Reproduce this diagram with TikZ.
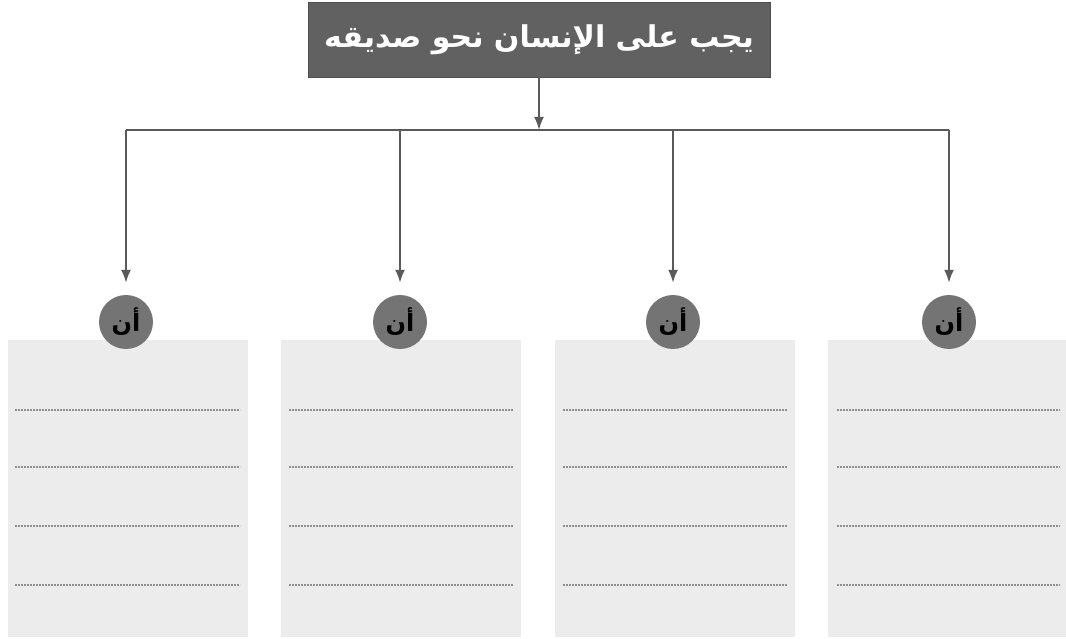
\documentclass[tikz,border=0pt]{standalone}
\usepackage{fontspec}
\usepackage{tikz}
\usetikzlibrary{arrows,arrows.meta}
\TeXXeTstate=1
\newfontfamily\arabicfont[Script=Arabic]{DejaVu Sans}
\definecolor{titlegray}{HTML}{616161}
\definecolor{ballgray}{HTML}{747474}
\definecolor{boxgray}{HTML}{ECECEC}
\definecolor{linegray}{HTML}{5A5A5A}
\definecolor{dotgray}{HTML}{8E8E8E}
\tikzset{
  titlebox/.style={draw=titlegray!80!black, fill=titlegray, text=white,
    minimum width=462pt, minimum height=75pt, inner sep=0pt,
    font=\arabicfont\bfseries\fontsize{30}{34}\selectfont},
  ball/.style={circle, fill=ballgray, minimum size=54pt, inner sep=0pt,
    font=\arabicfont\bfseries\fontsize{24}{28}\selectfont},
  sheet/.style={fill=boxgray, minimum width=240pt, minimum height=297pt,
    inner sep=0pt},
  link/.style={draw=linegray, line width=2pt},
  tip/.style={-{Latex[length=13pt,width=10pt]}},
  writeline/.style={draw=dotgray, line width=2.5pt, dash pattern=on 2pt off 1pt}
}

\begin{document}
\begin{tikzpicture}[x=1pt, y=-1pt]
\useasboundingbox (0,0) rectangle (1066,639);

% title
\node[titlebox] (title) at (539,39.5) {\beginR يجب على الإنسان نحو صديقه\endR};

% answer sheets
\node[sheet] (b1) at (127.5,488.5) {};
\node[sheet] (b2) at (400.5,488.5) {};
\node[sheet] (b3) at (675,488.5) {};
\node[sheet] (b4) at (947.5,488.5) {};

% write-in lines
\draw[writeline] (15,410) -- (240,410);
\draw[writeline] (15,467) -- (240,467);
\draw[writeline] (15,526) -- (240,526);
\draw[writeline] (15,585) -- (240,585);
\draw[writeline] (289,410) -- (513,410);
\draw[writeline] (289,467) -- (513,467);
\draw[writeline] (289,526) -- (513,526);
\draw[writeline] (289,585) -- (513,585);
\draw[writeline] (563,410) -- (787,410);
\draw[writeline] (563,467) -- (787,467);
\draw[writeline] (563,526) -- (787,526);
\draw[writeline] (563,585) -- (787,585);
\draw[writeline] (837,410) -- (1060,410);
\draw[writeline] (837,467) -- (1060,467);
\draw[writeline] (837,526) -- (1060,526);
\draw[writeline] (837,585) -- (1060,585);

% balls
\node[ball] (c1) at (126,322) {\beginR أن\endR};
\node[ball] (c2) at (400,322) {\beginR أن\endR};
\node[ball] (c3) at (673,322) {\beginR أن\endR};
\node[ball] (c4) at (949,322) {\beginR أن\endR};

% branches
\coordinate (j0) at (539,130);
\coordinate (j1) at (126,130);
\coordinate (j2) at (400,130);
\coordinate (j3) at (673,130);
\coordinate (j4) at (949,130);
\draw[link, tip] (title.south) -- (j0);
\draw[link] (j1) -- (j4);
\draw[link, tip, shorten >=12pt] (j1) -- (c1.north);
\draw[link, tip, shorten >=12pt] (j2) -- (c2.north);
\draw[link, tip, shorten >=12pt] (j3) -- (c3.north);
\draw[link, tip, shorten >=12pt] (j4) -- (c4.north);
\end{tikzpicture}
\end{document}
